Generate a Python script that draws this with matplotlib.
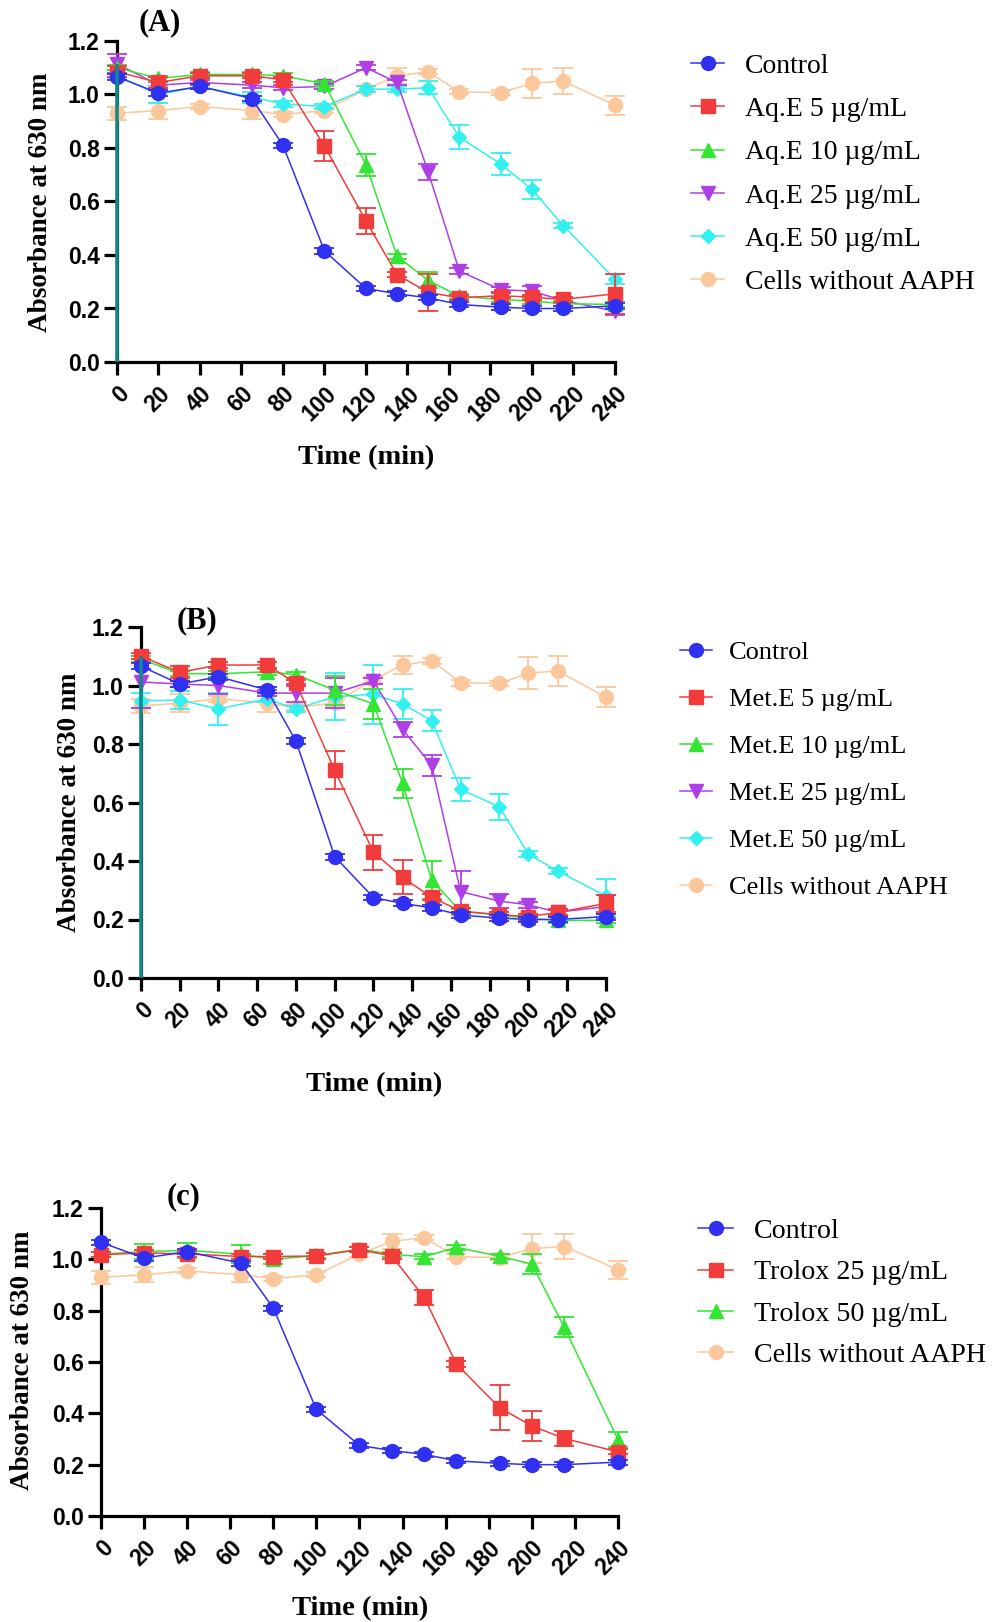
import numpy as np
import matplotlib
matplotlib.use("Agg")
import matplotlib.pyplot as plt
from matplotlib.lines import Line2D

# tiempos de muestreo (min)
times = [0, 20, 40, 65, 80, 100, 120, 135, 150, 165, 185, 200, 215, 240]

# series comunes a los tres paneles
control = [1.066, 1.005, 1.03, 0.985, 0.81, 0.415, 0.275, 0.255, 0.24, 0.215, 0.205, 0.2, 0.2, 0.21]
control_err = [0.01, 0.01, 0.01, 0.01, 0.01, 0.01, 0.01, 0.01, 0.01, 0.01, 0.01, 0.01, 0.01, 0.01]
no_aaph = [0.93, 0.94, 0.955, 0.94, 0.925, 0.94, 1.02, 1.07, 1.085, 1.01, 1.007, 1.042, 1.05, 0.96]
no_aaph_err = [0.025, 0.03, 0.01, 0.03, 0.01, 0.01, 0.01, 0.03, 0.01, 0.01, 0.01, 0.055, 0.05, 0.035]

# panel A: extracto acuoso
aqe5 = [1.085, 1.045, 1.07, 1.07, 1.055, 0.807, 0.527, 0.326, 0.26, 0.24, 0.248, 0.242, 0.234, 0.255]
aqe5_err = [0.02, 0.02, 0.01, 0.01, 0.01, 0.055, 0.05, 0.01, 0.07, 0.01, 0.01, 0.01, 0.01, 0.075]
aqe10 = [1.1, 1.06, 1.075, 1.075, 1.07, 1.04, 0.737, 0.395, 0.305, 0.246, 0.234, 0.228, 0.218, 0.215]
aqe10_err = [0.01, 0.01, 0.01, 0.01, 0.01, 0.01, 0.04, 0.01, 0.03, 0.01, 0.01, 0.01, 0.01, 0.01]
aqe25 = [1.115, 1.035, 1.045, 1.035, 1.025, 1.03, 1.1, 1.045, 0.71, 0.34, 0.27, 0.265, 0.23, 0.19]
aqe25_err = [0.035, 0.01, 0.01, 0.01, 0.01, 0.01, 0.01, 0.01, 0.03, 0.01, 0.01, 0.02, 0.01, 0.015]
aqe50 = [1.07, 1.0, 1.03, 0.99, 0.965, 0.955, 1.02, 1.02, 1.025, 0.84, 0.74, 0.645, 0.51, 0.31]
aqe50_err = [0.01, 0.03, 0.01, 0.02, 0.01, 0.01, 0.01, 0.01, 0.025, 0.045, 0.04, 0.035, 0.01, 0.02]

# panel B: extracto metanolico
met5 = [1.1, 1.045, 1.07, 1.07, 1.008, 0.71, 0.43, 0.344, 0.276, 0.229, 0.216, 0.21, 0.224, 0.255]
met5_err = [0.01, 0.02, 0.01, 0.01, 0.01, 0.065, 0.06, 0.058, 0.01, 0.01, 0.01, 0.01, 0.01, 0.03]
met10 = [1.09, 1.041, 1.04, 1.047, 1.037, 0.984, 0.937, 0.666, 0.335, 0.227, 0.216, 0.204, 0.197, 0.197]
met10_err = [0.01, 0.01, 0.01, 0.01, 0.01, 0.05, 0.05, 0.05, 0.065, 0.01, 0.01, 0.01, 0.01, 0.01]
met25 = [1.012, 1.005, 1.0, 0.974, 0.974, 0.974, 1.016, 0.85, 0.727, 0.295, 0.263, 0.25, 0.225, 0.244]
met25_err = [0.09, 0.01, 0.03, 0.01, 0.03, 0.05, 0.01, 0.025, 0.035, 0.07, 0.025, 0.01, 0.01, 0.04]
met50 = [0.948, 0.95, 0.92, 0.954, 0.92, 0.962, 0.97, 0.937, 0.88, 0.645, 0.585, 0.423, 0.366, 0.28]
met50_err = [0.025, 0.03, 0.055, 0.01, 0.01, 0.08, 0.1, 0.05, 0.035, 0.04, 0.045, 0.01, 0.01, 0.06]

# panel C: trolox
trolox25 = [1.018, 1.025, 1.021, 1.011, 1.011, 1.013, 1.038, 1.013, 0.852, 0.592, 0.422, 0.351, 0.302, 0.25]
trolox25_err = [0.01, 0.01, 0.01, 0.01, 0.01, 0.01, 0.01, 0.01, 0.03, 0.01, 0.088, 0.058, 0.03, 0.01]
trolox50 = [1.02, 1.03, 1.035, 1.02, 1.0, 1.015, 1.04, 1.02, 1.01, 1.047, 1.012, 0.982, 0.736, 0.298]
trolox50_err = [0.01, 0.03, 0.03, 0.035, 0.02, 0.01, 0.01, 0.01, 0.01, 0.01, 0.01, 0.04, 0.04, 0.03]

AZUL = "#3030f0"
ROJO = "#f23c3c"
VERDE = "#33e633"
MORADO = "#b03ee6"
CIAN = "#33f0f0"
NARANJA = "#fcc79a"

W, H = 995, 1622
fig = plt.figure(figsize=(W / 100, H / 100), dpi=100)


def px_ax(left, right, top, bottom):
    # convierte pixeles a fraccion de figura
    return fig.add_axes([left / W, 1 - bottom / H, (right - left) / W, (bottom - top) / H])


def panel(ax, series, leg_x, leg_y, leg_size, leg_sp, hlen, hpad, teal):
    handles = []
    n = len(series)
    for k, (y, err, color, mk, ms, label) in enumerate(series):
        h = ax.errorbar(times, y, yerr=err, color=color, marker=mk, markersize=ms,
                        lw=1.1, elinewidth=1.3, capsize=7, capthick=1.3,
                        zorder=10 + n - k, clip_on=False)
        for art in h.lines[1] + h.lines[2]:
            art.set_clip_on(False)
        handles.append(Line2D([], [], color=color, marker=mk, markersize=ms,
                              lw=1.1, label=label))
    if teal:
        ax.vlines(times[0], 0, max(s[0][0] for s in series), color="#128888", lw=2.6,
                  zorder=30, clip_on=False)
    ax.set_xlim(0, 240)
    ax.set_ylim(0, 1.2)
    ax.set_xticks(np.arange(0, 241, 20))
    ax.set_yticks(np.arange(0, 1.21, 0.2))
    ax.set_yticklabels(["%.1f" % v for v in np.arange(0, 1.21, 0.2)])
    for s in ["top", "right"]:
        ax.spines[s].set_visible(False)
    for s in ["left", "bottom"]:
        ax.spines[s].set_linewidth(2.3)
    ax.tick_params(width=2.3, length=9.5, labelsize=16.5, pad=3)
    ax.tick_params(axis="x", pad=5)
    for t in ax.get_xticklabels() + ax.get_yticklabels():
        t.set_fontfamily("Liberation Sans")
        t.set_fontweight("bold")
    for t in ax.get_xticklabels():
        t.set_rotation(45)
        t.set_ha("right")
        t.set_va("top")
        t.set_rotation_mode("anchor")
    fig.legend(handles=handles, loc="upper left",
               bbox_to_anchor=(leg_x / W, 1 - leg_y / H), frameon=False,
               prop={"family": "Liberation Serif", "size": leg_size},
               handlelength=hlen, handletextpad=hpad, labelspacing=leg_sp,
               borderaxespad=0, borderpad=0)


def etiquetas(letra, lx, ly, ylx, yly, tx, ty):
    fig.text(lx / W, 1 - ly / H, letra, ha="center", va="center",
             family="Liberation Serif", weight="bold", size=22)
    fig.text(ylx / W, 1 - yly / H, "Absorbance at 630 nm", ha="center", va="center",
             rotation=90, family="Liberation Serif", weight="bold", size=19.5)
    fig.text(tx / W, 1 - ty / H, "Time (min)", ha="center", va="center",
             family="Liberation Serif", weight="bold", size=20.5)


# panel A
axA = px_ax(117, 615, 41, 362)
panel(axA, [
    (control, control_err, AZUL, "o", 10, "Control"),
    (aqe5, aqe5_err, ROJO, "s", 9.5, "Aq.E 5 µg/mL"),
    (aqe10, aqe10_err, VERDE, "^", 10, "Aq.E 10 µg/mL"),
    (aqe25, aqe25_err, MORADO, "v", 10, "Aq.E 25 µg/mL"),
    (aqe50, aqe50_err, CIAN, "D", 7.5, "Aq.E 50 µg/mL"),
    (no_aaph, no_aaph_err, NARANJA, "o", 10, "Cells without AAPH"),
], 691, 53.5, 20, 0.64, 1.2, 0.75, True)
etiquetas("(A)", 160, 23, 41, 202, 366, 458)

# panel B
axB = px_ax(141, 606, 627, 978)
panel(axB, [
    (control, control_err, AZUL, "o", 10, "Control"),
    (met5, met5_err, ROJO, "s", 9.5, "Met.E 5 µg/mL"),
    (met10, met10_err, VERDE, "^", 10, "Met.E 10 µg/mL"),
    (met25, met25_err, MORADO, "v", 10, "Met.E 25 µg/mL"),
    (met50, met50_err, CIAN, "D", 7.5, "Met.E 50 µg/mL"),
    (no_aaph, no_aaph_err, NARANJA, "o", 10, "Cells without AAPH"),
], 680, 640.5, 19, 0.89, 1.2, 0.65, True)
etiquetas("(B)", 197, 621, 70, 802, 374, 1085)

# panel C
axC = px_ax(101, 618, 1208, 1516)
panel(axC, [
    (control, control_err, AZUL, "o", 10, "Control"),
    (trolox25, trolox25_err, ROJO, "s", 9.5, "Trolox 25 µg/mL"),
    (trolox50, trolox50_err, VERDE, "^", 10, "Trolox 50 µg/mL"),
    (no_aaph, no_aaph_err, NARANJA, "o", 10, "Cells without AAPH"),
], 698, 1218.5, 20.2, 0.56, 1.26, 0.74, False)
etiquetas("(c)", 184, 1197, 23, 1360, 360, 1609)

fig.savefig("out.png", dpi=100)
